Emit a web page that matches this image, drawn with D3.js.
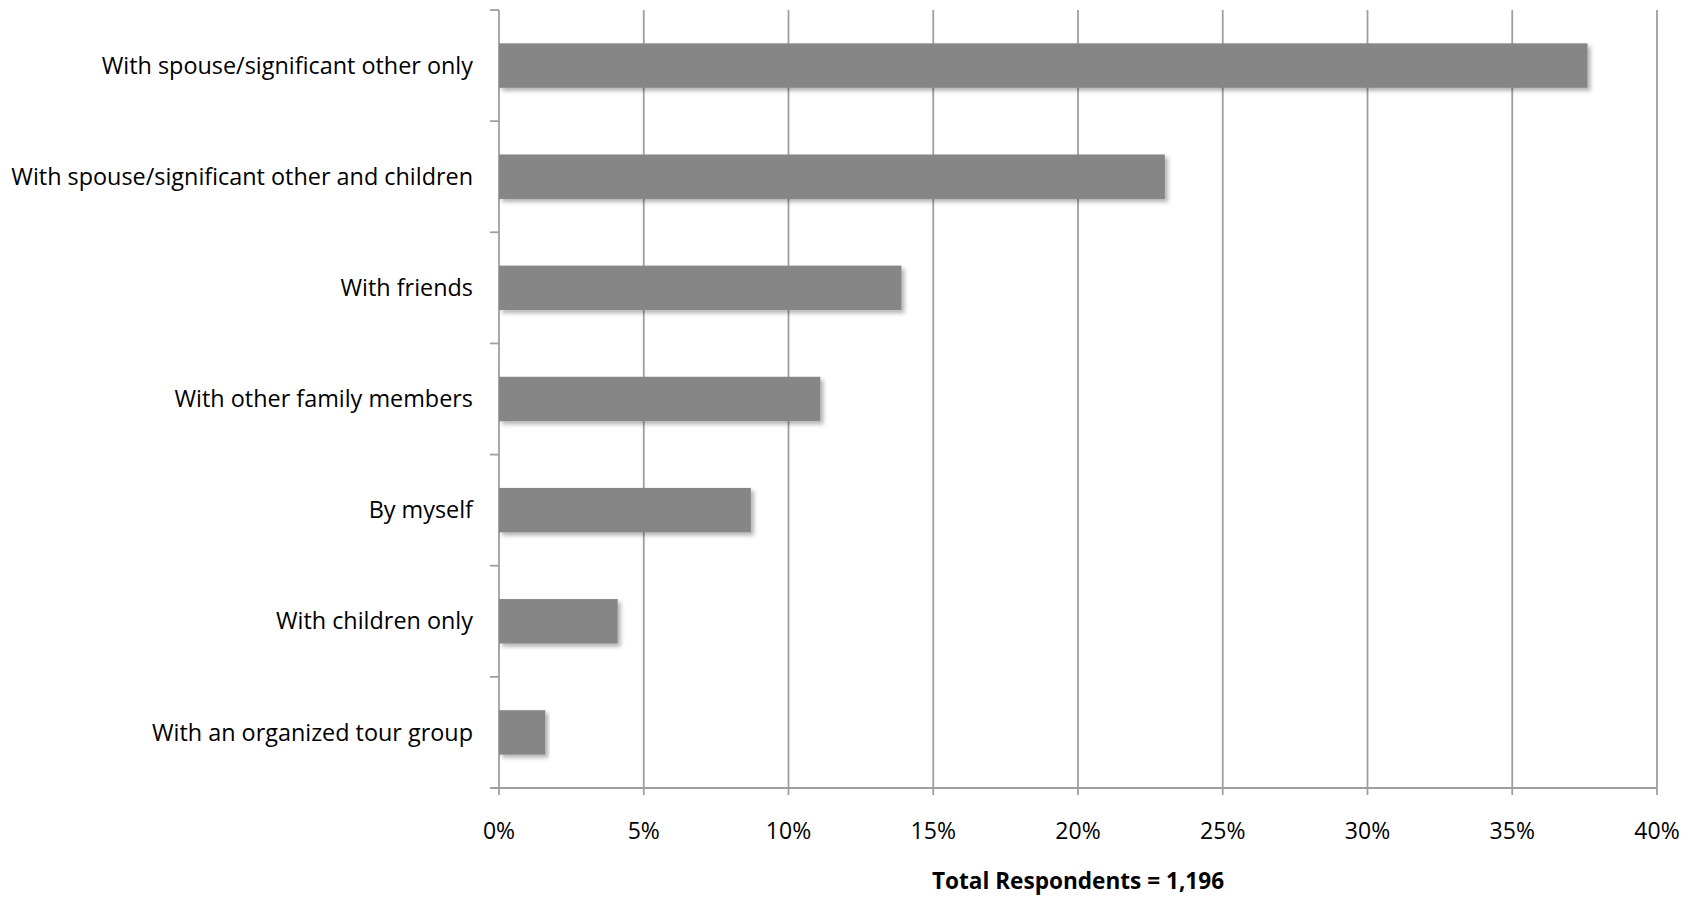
<!DOCTYPE html>
<html>
<head>
<meta charset="utf-8">
<script src="https://cdn.jsdelivr.net/npm/d3@7"></script>
<style>
  html, body { margin: 0; padding: 0; background: #fff; }
  svg { display: block; }
</style>
</head>
<body>
<svg id="chart" width="1696" height="897"></svg>
<script>
const categories = [
  "With spouse/significant other only",
  "With spouse/significant other and children",
  "With friends",
  "With other family members",
  "By myself",
  "With children only",
  "With an organized tour group"
];
const values = [37.6, 23.0, 13.9, 11.1, 8.7, 4.1, 1.6];
const xTicks = [0, 5, 10, 15, 20, 25, 30, 35, 40];
const xTitle = "Total Respondents = 1,196";

const svg = d3.select("#chart");
const plotLeft = 499, plotRight = 1657, plotTop = 10, plotBottom = 788;

const x = d3.scaleLinear().domain([0, 40]).range([plotLeft, plotRight]);
const y = d3.scaleBand().domain(categories).range([plotTop, plotBottom])
  .paddingInner(0.6).paddingOuter(0.3);

const defs = svg.append("defs");
const f = defs.append("filter").attr("id", "shadow")
  .attr("x", "-5%").attr("y", "-20%").attr("width", "115%").attr("height", "160%");
f.append("feDropShadow").attr("dx", 3).attr("dy", 3).attr("stdDeviation", 2)
  .attr("flood-color", "#000").attr("flood-opacity", 0.3);

const gridColor = "#9f9f9f";

// vertical gridlines
svg.append("g").selectAll("line").data(xTicks.filter(d => d > 0)).join("line")
  .attr("x1", d => x(d)).attr("x2", d => x(d))
  .attr("y1", plotTop).attr("y2", plotBottom + 7)
  .attr("stroke", gridColor).attr("stroke-width", 1.8);

// y axis line
svg.append("line").attr("x1", x(0)).attr("x2", x(0))
  .attr("y1", plotTop).attr("y2", plotBottom + 7)
  .attr("stroke", gridColor).attr("stroke-width", 1.8);

// y axis ticks at band boundaries
const step = y.step();
const boundaries = d3.range(categories.length + 1).map(i => plotTop + i * step);
svg.append("g").selectAll("line").data(boundaries).join("line")
  .attr("x1", x(0) - 9).attr("x2", x(0))
  .attr("y1", d => d).attr("y2", d => d)
  .attr("stroke", gridColor).attr("stroke-width", 1.8);

// x axis line
svg.append("line").attr("x1", x(0) - 9).attr("x2", plotRight)
  .attr("y1", plotBottom).attr("y2", plotBottom)
  .attr("stroke", gridColor).attr("stroke-width", 1.8);

// bars
svg.append("g").selectAll("rect").data(values).join("rect")
  .attr("x", x(0))
  .attr("y", (d, i) => y(categories[i]))
  .attr("width", d => x(d) - x(0))
  .attr("height", y.bandwidth())
  .attr("fill", "#868686")
  .attr("filter", "url(#shadow)");

const font = "'Open Sans', Lato, sans-serif";

// category labels
svg.append("g").selectAll("text").data(categories).join("text")
  .attr("x", 473)
  .attr("y", d => y(d) + y.bandwidth() / 2)
  .attr("dy", "0.35em")
  .attr("text-anchor", "end")
  .attr("font-family", font)
  .attr("font-size", 23.4)
  .attr("fill", "#000")
  .text(d => d);

// x tick labels
svg.append("g").selectAll("text").data(xTicks).join("text")
  .attr("x", d => x(d))
  .attr("y", 839)
  .attr("text-anchor", "middle")
  .attr("font-family", font)
  .attr("font-size", 23)
  .attr("fill", "#000")
  .text(d => d + "%");

// x title
svg.append("text")
  .attr("x", (plotLeft + plotRight) / 2)
  .attr("y", 889)
  .attr("text-anchor", "middle")
  .attr("font-family", font)
  .attr("font-weight", "bold")
  .attr("font-size", 22.6)
  .attr("fill", "#000")
  .text(xTitle);
</script>
</body>
</html>
